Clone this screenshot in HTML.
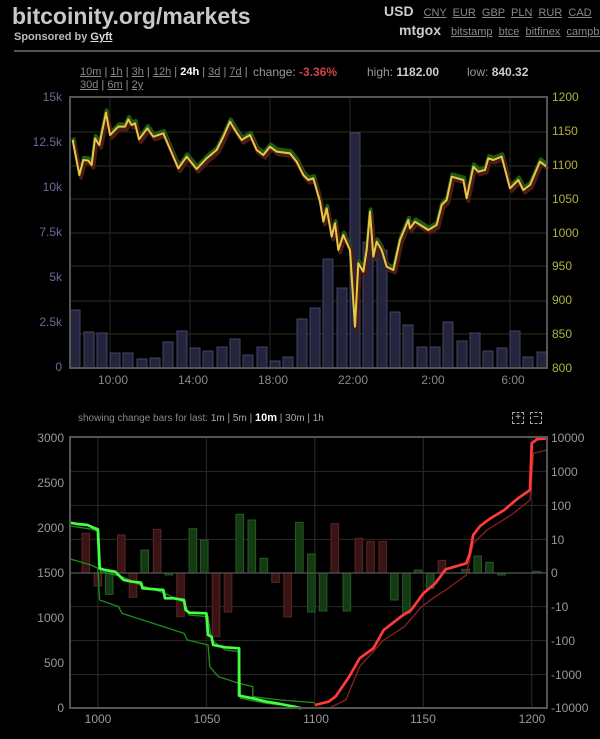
<!DOCTYPE html>
<html><head><meta charset="utf-8"><style>
body{margin:0;background:#000;width:600px;height:739px;overflow:hidden;font-family:"Liberation Sans",sans-serif;color:#aaa;position:relative}
.a{position:absolute;white-space:nowrap}
u{color:#888}
</style></head><body>
<div class="a" style="left:12px;top:3px;font-size:23px;font-weight:bold;color:#c8c8c8">bitcoinity.org/markets</div>
<div class="a" style="left:14px;top:31px;font-size:11px;font-weight:bold;color:#bbb">Sponsored by <u style="color:#ddd">Gyft</u></div>
<div class="a" style="left:14px;top:50px;width:586px;height:2px;background:#555"></div>
<div class="a" style="left:384px;top:3px;font-size:14px;font-weight:bold;color:#ccc">USD <span style="font-size:11px;font-weight:normal;color:#777;word-spacing:3px">&nbsp;<u>CNY</u> <u>EUR</u> <u>GBP</u> <u>PLN</u> <u>RUR</u> <u>CAD</u></span></div>
<div class="a" style="left:399px;top:22px;font-size:14px;font-weight:bold;color:#ccc">mtgox <span style="font-size:11px;font-weight:normal;color:#777;word-spacing:3px">&nbsp;<u>bitstamp</u> <u>btce</u> <u>bitfinex</u> <u>campbx</u></span></div>
<div class="a" style="left:80px;top:66px;font-size:11px;color:#999"><u>10m</u> | <u>1h</u> | <u>3h</u> | <u>12h</u> | <b style="color:#fff">24h</b> | <u>3d</u> | <u>7d</u> |</div>
<div class="a" style="left:253px;top:65px;font-size:12px;color:#999">change: <b style="color:#c44">-3.36%</b></div>
<div class="a" style="left:367px;top:65px;font-size:12px;color:#999">high: <b style="color:#ccc">1182.00</b></div>
<div class="a" style="left:467px;top:65px;font-size:12px;color:#999">low: <b style="color:#ccc">840.32</b></div>
<div class="a" style="left:80px;top:79px;font-size:11px;color:#999"><u>30d</u> | <u>6m</u> | <u>2y</u></div>
<div class="a" style="left:78px;top:412px;font-size:10px;color:#888">showing change bars for last: <span style="color:#aaa">1m | 5m | <b style="color:#fff;font-size:11px">10m</b> | 30m | 1h</span></div>
<div class="a" style="left:512px;top:412px;width:10px;height:10px;border:1px dashed #aaa;font-size:10px;line-height:10px;text-align:center;color:#ccc">+</div>
<div class="a" style="left:530px;top:412px;width:10px;height:10px;border:1px dashed #aaa;font-size:10px;line-height:10px;text-align:center;color:#ccc">−</div>
<svg class="a" style="left:0;top:0" width="600" height="739" font-family="Liberation Sans, sans-serif">
<defs><polyline id="pp" points="38,150 58,255 70,210 85,212 95,225 105,145 118,165 138,68 150,135 175,110 195,110 205,88 215,105 225,100 237,148 262,115 280,140 310,130 355,235 380,200 410,237 440,205 470,180 490,140 510,95 525,120 545,150 570,135 590,180 610,195 630,170 650,185 690,190 710,215 730,255 745,270 760,265 780,335 790,395 800,355 815,440 825,400 835,480 850,435 870,480 885,710 895,520 910,545 920,480 930,365 940,500 950,455 965,480 980,530 1000,540 1020,450 1045,390 1050,415 1065,395 1105,420 1130,405 1145,345 1160,330 1175,260 1210,270 1220,325 1240,230 1255,245 1275,240 1285,205 1300,210 1325,200 1350,295 1375,270 1390,300 1410,285 1440,215 1460,230"/></defs>
<g stroke-width="1">
<g stroke="#2e2e14"><line x1="70" x2="547" y1="132" y2="132"/><line x1="70" x2="547" y1="166" y2="166"/><line x1="70" x2="547" y1="199" y2="199"/><line x1="70" x2="547" y1="233" y2="233"/><line x1="70" x2="547" y1="266" y2="266"/><line x1="70" x2="547" y1="301" y2="301"/><line x1="70" x2="547" y1="334" y2="334"/></g>
<g stroke="#262626"><line x1="110" x2="110" y1="97" y2="368"/><line x1="190" x2="190" y1="97" y2="368"/><line x1="270" x2="270" y1="97" y2="368"/><line x1="350" x2="350" y1="97" y2="368"/><line x1="430" x2="430" y1="97" y2="368"/><line x1="510" x2="510" y1="97" y2="368"/></g>
</g>
<g fill="#24243c" stroke="#45456a" stroke-width="1">
<rect x="70" y="310" width="10" height="58"/><rect x="84" y="332" width="10" height="36"/><rect x="97" y="333" width="10" height="35"/><rect x="110" y="353" width="10" height="15"/><rect x="123" y="353" width="10" height="15"/><rect x="137" y="359" width="10" height="9"/><rect x="150" y="358" width="10" height="10"/><rect x="163" y="342" width="10" height="26"/><rect x="177" y="331" width="10" height="37"/><rect x="190" y="348" width="10" height="20"/><rect x="203" y="351" width="10" height="17"/><rect x="217" y="347" width="10" height="21"/><rect x="230" y="339" width="10" height="29"/><rect x="243" y="355" width="10" height="13"/><rect x="257" y="347" width="10" height="21"/><rect x="270" y="361" width="10" height="7"/><rect x="283" y="357" width="10" height="11"/><rect x="297" y="319" width="10" height="49"/><rect x="310" y="308" width="10" height="60"/><rect x="323" y="259" width="10" height="109"/><rect x="337" y="288" width="10" height="80"/><rect x="350" y="133" width="10" height="235"/><rect x="363" y="242" width="10" height="126"/><rect x="377" y="250" width="10" height="118"/><rect x="390" y="312" width="10" height="56"/><rect x="403" y="325" width="10" height="43"/><rect x="417" y="347" width="10" height="21"/><rect x="430" y="347" width="10" height="21"/><rect x="443" y="322" width="10" height="46"/><rect x="457" y="341" width="10" height="27"/><rect x="470" y="333" width="10" height="35"/><rect x="483" y="351" width="10" height="17"/><rect x="497" y="348" width="10" height="20"/><rect x="510" y="331" width="10" height="37"/><rect x="523" y="357" width="10" height="11"/><rect x="537" y="352" width="10" height="16"/>
</g>
<g transform="translate(60,90) scale(0.33333)" fill="none" stroke-linejoin="round">
<use href="#pp" transform="translate(2,-7)" stroke="#1f5a14" stroke-width="12"/>
<use href="#pp" transform="translate(5,8)" stroke="#4a1c14" stroke-width="12"/>
<use href="#pp" stroke="#e8c848" stroke-width="6"/>
</g>
<rect x="70" y="97" width="477" height="271" fill="none" stroke="#555" stroke-width="2"/>
<g font-size="12" fill="#6a6a9a" text-anchor="end"><text x="62" y="101">15k</text><text x="62" y="146">12.5k</text><text x="62" y="191">10k</text><text x="62" y="236">7.5k</text><text x="62" y="281">5k</text><text x="62" y="326">2.5k</text><text x="62" y="371">0</text></g>
<g font-size="12" fill="#b0b040"><text x="552" y="101">1200</text><text x="552" y="135">1150</text><text x="552" y="169">1100</text><text x="552" y="203">1050</text><text x="552" y="237">1000</text><text x="552" y="270">950</text><text x="552" y="304">900</text><text x="552" y="338">850</text><text x="552" y="372">800</text></g>
<g font-size="12" fill="#888" text-anchor="middle"><text x="113" y="384">10:00</text><text x="193" y="384">14:00</text><text x="273" y="384">18:00</text><text x="353" y="384">22:00</text><text x="433" y="384">2:00</text><text x="513" y="384">6:00</text></g>

<g transform="translate(60,400) scale(0.34435,0.33333)">
<g stroke="#2a2a2a" stroke-width="3"><line x1="28" x2="1413" y1="214" y2="214"/><line x1="28" x2="1413" y1="316" y2="316"/><line x1="28" x2="1413" y1="418" y2="418"/><line x1="28" x2="1413" y1="620" y2="620"/><line x1="28" x2="1413" y1="722" y2="722"/><line x1="28" x2="1413" y1="824" y2="824"/><line x1="110" x2="110" y1="112" y2="925"/><line x1="425" x2="425" y1="112" y2="925"/><line x1="740" x2="740" y1="112" y2="925"/><line x1="1055" x2="1055" y1="112" y2="925"/><line x1="1370" x2="1370" y1="112" y2="925"/></g>
<g stroke-width="3">
<g fill="#3a1414" stroke="#5a2424">
<rect x="64" y="400" width="22" height="119"/><rect x="99" y="519" width="22" height="39"/><rect x="167" y="405" width="22" height="114"/><rect x="201" y="519" width="22" height="73"/><rect x="271" y="388" width="22" height="131"/><rect x="339" y="519" width="22" height="131"/><rect x="442" y="519" width="22" height="191"/><rect x="477" y="519" width="22" height="117"/><rect x="615" y="519" width="22" height="28"/><rect x="650" y="519" width="22" height="132"/><rect x="787" y="371" width="22" height="148"/><rect x="857" y="415" width="22" height="104"/><rect x="891" y="424" width="22" height="95"/><rect x="926" y="424" width="22" height="95"/><rect x="1098" y="481" width="22" height="38"/>
</g>
<g fill="#143a14" stroke="#245a24">
<rect x="132" y="519" width="22" height="64"/><rect x="235" y="450" width="22" height="69"/><rect x="305" y="519" width="22" height="6"/><rect x="375" y="386" width="22" height="133"/><rect x="408" y="420" width="22" height="99"/><rect x="511" y="343" width="22" height="176"/><rect x="546" y="360" width="22" height="159"/><rect x="581" y="475" width="22" height="44"/><rect x="684" y="367" width="22" height="152"/><rect x="719" y="462" width="22" height="174"/><rect x="753" y="519" width="22" height="114"/><rect x="822" y="519" width="22" height="114"/><rect x="960" y="519" width="22" height="81"/><rect x="995" y="519" width="22" height="121"/><rect x="1029" y="510" width="22" height="9"/><rect x="1064" y="519" width="22" height="46"/><rect x="1167" y="508" width="22" height="11"/><rect x="1202" y="468" width="22" height="51"/><rect x="1236" y="487" width="22" height="32"/><rect x="1271" y="519" width="22" height="6"/><rect x="1374" y="514" width="22" height="5"/>
</g></g>
<line x1="28" x2="1413" y1="519" y2="519" stroke="#555" stroke-width="4"/>
<g fill="none" stroke-linejoin="round">
<polyline stroke="#1e8a1e" stroke-width="4" points="30,477 90,495 110,505 115,600 170,620 180,640 240,660 300,680 360,700 370,720 430,735 435,800 460,830 520,850 560,860 560,890 640,900 740,908"/>
<polyline stroke="#1e8a1e" stroke-width="4" points="30,378 95,388 112,395 118,515 175,528 240,558 300,578 362,608 375,645 430,650 440,720 480,750 520,755 525,895 600,910 700,922"/>
<polyline stroke="#44ff44" stroke-width="8" points="30,368 50,372 80,375 95,382 110,388 115,505 130,510 160,515 175,530 185,540 210,545 235,548 240,565 300,570 305,595 330,595 360,600 365,630 375,638 425,640 430,705 440,710 445,735 480,742 520,745 520,887 560,895 600,905 640,912 680,920 700,925"/>
<polyline stroke="#8a1e1e" stroke-width="4" points="780,925 830,900 870,800 940,720 1000,680 1050,620 1090,590 1120,570 1180,525 1200,430 1240,390 1310,345 1365,300 1375,160 1413,150"/>
<polyline stroke="#ff3a3a" stroke-width="8" points="740,915 780,905 800,890 840,830 870,775 910,745 940,690 990,650 1020,630 1055,580 1090,550 1120,508 1180,490 1190,460 1200,405 1220,378 1250,355 1290,330 1330,295 1365,270 1370,130 1385,118 1413,115"/>
</g></g>
<rect x="70" y="437" width="477" height="271" fill="none" stroke="#555" stroke-width="2"/>
<g font-size="12" fill="#999" text-anchor="end"><text x="64" y="442">3000</text><text x="64" y="487">2500</text><text x="64" y="532">2000</text><text x="64" y="577">1500</text><text x="64" y="622">1000</text><text x="64" y="667">500</text><text x="64" y="712">0</text></g>
<g font-size="12" fill="#999"><text x="551" y="442">10000</text><text x="551" y="476">1000</text><text x="551" y="510">100</text><text x="551" y="544">10</text><text x="551" y="577">0</text><text x="551" y="611">-10</text><text x="551" y="645">-100</text><text x="551" y="679">-1000</text><text x="551" y="712">-10000</text></g>
<g font-size="12" fill="#999" text-anchor="middle"><text x="98" y="723">1000</text><text x="207" y="723">1050</text><text x="316" y="723">1100</text><text x="423" y="723">1150</text><text x="532" y="723">1200</text></g>
</svg>
</body></html>
